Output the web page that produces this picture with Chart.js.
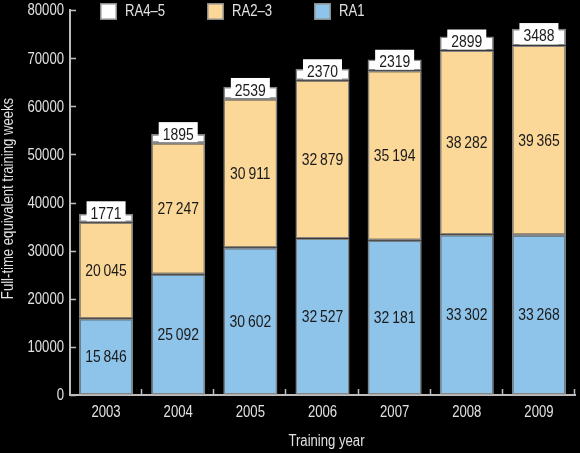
<!DOCTYPE html>
<html><head><meta charset="utf-8">
<script src="https://cdn.jsdelivr.net/npm/chart.js@4.4.0/dist/chart.umd.min.js"></script>
<style>html,body{margin:0;padding:0;background:#000;}#wrap{width:580px;height:453px;}</style>
</head><body><div id="wrap"><canvas id="c" width="580" height="453"></canvas></div>
<script>
const years = ['2003','2004','2005','2006','2007','2008','2009'];
const ra1 = [15846,25092,30602,32527,32181,33302,33268];
const ra23 = [20045,27247,30911,32879,35194,38282,39365];
const ra45 = [1771,1895,2539,2370,2319,2899,3488];
const yTickLabels = ['0','10000','20000','30000','40000','50000','60000','70000','80000'];
const seriesNames = ['RA1','RA2\u20133','RA4\u20135'];
const seriesColors = ['#8ec4ea','#fcd898','#ffffff'];
const xTitle = 'Training year';
const yTitle = 'Full-time equivalent training weeks';

const FONT = "'Liberation Sans','Arimo',Arial,sans-serif";
Chart.defaults.font.family = FONT;
const SX = 0.82; // horizontal condensing to mimic narrow typeface

function fmt(v){ return v >= 10000 ? String(v).replace(/\B(?=(\d{3})+(?!\d))/g,'\u2009') : String(v); }

function txt(ctx, t, x, y, align, size, color, rot){
  ctx.save();
  ctx.translate(x, y);
  if (rot) ctx.rotate(rot);
  ctx.scale(SX, 1);
  ctx.font = size + 'px ' + FONT;
  ctx.textAlign = align;
  ctx.textBaseline = 'middle';
  ctx.fillStyle = color;
  ctx.fillText(t, 0, 0);
  ctx.restore();
}
function tw(ctx, t, size){
  ctx.save(); ctx.font = size + 'px ' + FONT;
  const w = ctx.measureText(t).width * SX; ctx.restore(); return w;
}

const deco = {
  id:'deco',
  afterDatasetsDraw(chart){
    const ctx = chart.ctx;
    [0,1].forEach(di=>{
      const meta = chart.getDatasetMeta(di);
      meta.data.forEach((el,i)=>{
        const v = chart.data.datasets[di].data[i];
        txt(ctx, fmt(v), el.x, (el.y+el.base)/2 + 1, 'center', 17, '#1a1a1a');
      });
    });
    const meta = chart.getDatasetMeta(2);
    meta.data.forEach((el,i)=>{
      const v = chart.data.datasets[2].data[i];
      const t = fmt(v);
      const w = tw(ctx, t, 17) + 8;
      const segC = (el.y + el.base)/2;
      const cy = Math.min(segC - 2, el.base - 9);
      ctx.fillStyle = '#ffffff';
      ctx.fillRect(el.x - w/2, cy - 12, w, el.base - 1 - (cy - 12));
      txt(ctx, t, el.x, cy + 1, 'center', 17, '#1a1a1a');
    });
  },
  afterDraw(chart){
    const ctx = chart.ctx;
    const xs = chart.scales.x, ys = chart.scales.y;
    const lc = '#e2e2e2';
    ctx.save();
    ctx.strokeStyle = '#bdbdbd';
    ctx.lineWidth = 1.5;
    ys.ticks.forEach((t,i)=>{
      const yp = ys.getPixelForValue(t.value);
      const y = Math.round(yp) + 0.5;
      ctx.beginPath(); ctx.moveTo(xs.left, y); ctx.lineTo(xs.left + 6, y); ctx.stroke();
      txt(ctx, yTickLabels[i], xs.left - 6, yp + 1, 'right', 16, lc);
    });
    for (let i=0;i<years.length;i++){
      const x = Math.round((xs.getPixelForValue(i) + xs.getPixelForValue(i+1))/2) - 0.5;
      ctx.beginPath(); ctx.moveTo(x, ys.bottom); ctx.lineTo(x, ys.bottom - 6); ctx.stroke();
      txt(ctx, years[i], xs.getPixelForValue(i), ys.bottom + 18, 'center', 16, lc);
    }
    ctx.restore();
    txt(ctx, xTitle, (xs.left + xs.right)/2 + 4, ys.bottom + 47, 'center', 16, lc);
    txt(ctx, yTitle, 9, (ys.top + ys.bottom)/2 - 4, 'center', 16, lc, -Math.PI/2);
    // legend
    const order = [2,1,0];
    order.forEach((di,k)=>{
      const bx = 100 + k*107, by = 3;
      ctx.fillStyle = seriesColors[di];
      ctx.fillRect(bx, by, 17, 17);
      ctx.strokeStyle = '#8c8c8c'; ctx.lineWidth = 1.5;
      ctx.strokeRect(bx+0.75, by+0.75, 15.5, 15.5);
      txt(ctx, seriesNames[di], bx + 25, by + 9, 'left', 16, lc);
    });
  }
};

new Chart(document.getElementById('c'), {
  type:'bar',
  data:{
    labels: years,
    datasets:[
      {label:seriesNames[0], data:ra1, backgroundColor:seriesColors[0]},
      {label:seriesNames[1], data:ra23, backgroundColor:seriesColors[1]},
      {label:seriesNames[2], data:ra45, backgroundColor:seriesColors[2]}
    ].map(d=>Object.assign(d,{borderColor:'#858585', borderWidth:1.5, borderSkipped:false, categoryPercentage:1, barPercentage:0.75}))
  },
  options:{
    responsive:false,
    animation:false,
    devicePixelRatio:1,
    layout:{padding:{top:10,right:5,left:0,bottom:0}},
    plugins:{legend:{display:false}, tooltip:{enabled:false}},
    scales:{
      x:{
        stacked:true,
        grid:{display:true, drawOnChartArea:false, drawTicks:false},
        border:{display:true, color:'#bdbdbd', width:2},
        ticks:{display:false},
        afterFit(s){ s.height = 58; }
      },
      y:{
        stacked:true, min:0, max:80000,
        grid:{display:true, drawOnChartArea:false, drawTicks:false},
        border:{display:true, color:'#bdbdbd', width:2},
        ticks:{stepSize:10000, display:false},
        afterFit(s){ s.width = 70; }
      }
    }
  },
  plugins:[deco]
});
</script></body></html>
